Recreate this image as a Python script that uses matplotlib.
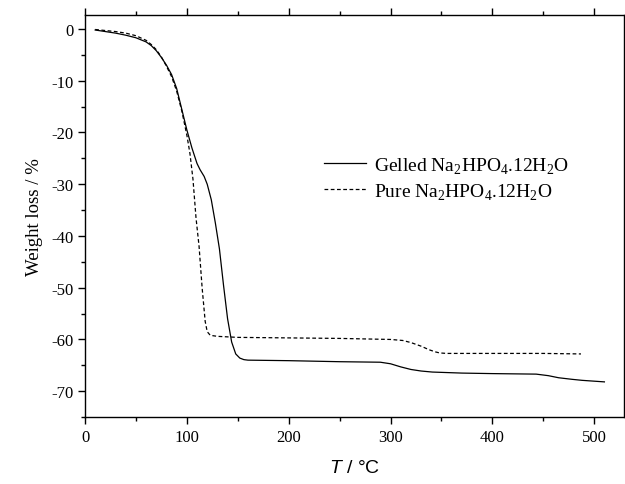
import matplotlib
matplotlib.use("Agg")
import matplotlib.pyplot as plt
from matplotlib.ticker import MultipleLocator

plt.rcParams['font.family'] = 'Liberation Serif'
plt.rcParams['mathtext.fontset'] = 'custom'
plt.rcParams['mathtext.rm'] = 'Liberation Serif'
plt.rcParams['mathtext.it'] = 'Liberation Sans:italic'
plt.rcParams['axes.unicode_minus'] = False

# ── DATA ──────────────────────────────────────────────────────────────────────
T_GELLED = [10, 20, 30, 40, 50, 60, 65, 70, 75, 80, 85, 90, 95, 100, 105, 110,
            113, 117, 120, 124, 128, 132, 136, 140, 144, 148, 152, 156, 160,
            200, 250, 290, 300, 310, 320, 330, 341, 370, 400, 443, 455, 465,
            478, 488, 510]
W_GELLED = [-0.2, -0.5, -0.8, -1.2, -1.7, -2.5, -3.2, -4.2, -5.5, -7.0, -8.8,
            -11.5, -15.5, -19.5, -23.0, -26.0, -27.2, -28.5, -30.0, -33.0,
            -37.5, -42.5, -49.5, -56.0, -60.5, -62.8, -63.6, -63.9, -64.0,
            -64.1, -64.3, -64.4, -64.7, -65.3, -65.8, -66.1, -66.3, -66.5,
            -66.6, -66.7, -67.0, -67.4, -67.7, -67.9, -68.2]

T_PURE = [10, 20, 30, 40, 50, 60, 65, 70, 75, 80, 85, 90, 95, 100, 103, 106,
          109, 112, 115, 118, 120, 123, 130, 150, 200, 250, 300, 312, 320,
          330, 338, 344, 348, 355, 400, 450, 487]
W_PURE = [-0.1, -0.3, -0.5, -0.8, -1.3, -2.2, -3.0, -4.0, -5.4, -7.2, -9.2,
          -12.0, -15.8, -20.5, -24.0, -29.0, -36.5, -42.0, -50.0, -56.5,
          -58.5, -59.2, -59.4, -59.6, -59.7, -59.8, -60.0, -60.2, -60.6,
          -61.3, -62.0, -62.4, -62.6, -62.7, -62.7, -62.7, -62.8]

LABEL_GELLED = 'Gelled Na$_2$HPO$_4$.12H$_2$O'
LABEL_PURE = 'Pure Na$_2$HPO$_4$.12H$_2$O'


def main() -> None:
    fig = plt.figure(figsize=(6.25, 4.85), dpi=100)
    ax = fig.add_axes([0.136, 0.138, 0.862, 0.829])

    ax.plot(T_GELLED, W_GELLED, color='black', linewidth=0.9, label=LABEL_GELLED)
    ax.plot(T_PURE, W_PURE, color='black', linewidth=0.9,
            linestyle=(0, (3, 2)), label=LABEL_PURE)

    ax.set_xlim(0, 529)
    ax.set_ylim(-75, 2.7)
    ax.xaxis.set_major_locator(MultipleLocator(100))
    ax.xaxis.set_minor_locator(MultipleLocator(50))
    ax.yaxis.set_major_locator(MultipleLocator(10))
    ax.yaxis.set_minor_locator(MultipleLocator(5))
    ax.tick_params(which='both', direction='out', top=True, right=False,
                   labelsize=12, width=1)
    ax.tick_params(which='major', length=5)
    ax.tick_params(which='minor', length=3)
    for sp in ax.spines.values():
        sp.set_linewidth(1)

    ax.set_ylabel('Weight loss / %', fontsize=13.5, labelpad=6)
    ax.set_xlabel('$T$ / °C', fontsize=14, family='Liberation Sans', labelpad=10)

    ax.legend(loc='center left', bbox_to_anchor=(0.425, 0.595), frameon=False,
              fontsize=14, handlelength=2.2, handletextpad=0.4,
              labelspacing=0.3, borderpad=0)

    plt.savefig('out.png', dpi=100)


if __name__ == "__main__":
    main()
